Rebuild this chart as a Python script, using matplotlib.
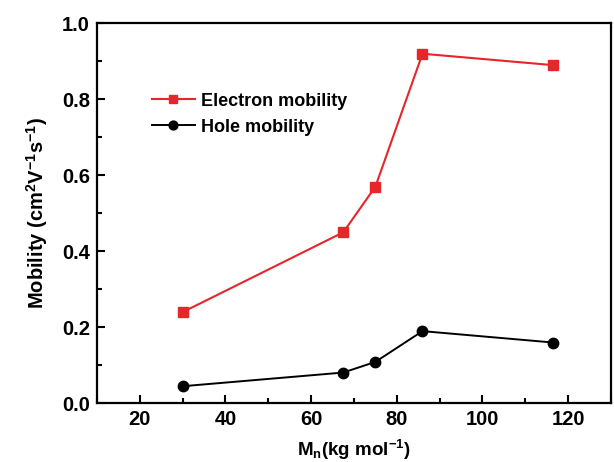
import matplotlib
matplotlib.use("Agg")
import matplotlib.pyplot as plt
from matplotlib.ticker import MultipleLocator

plt.rcParams['font.family'] = ['Liberation Sans', 'DejaVu Sans']
plt.rcParams['font.weight'] = 'bold'
plt.rcParams['mathtext.fontset'] = 'custom'
plt.rcParams['mathtext.rm'] = 'Liberation Sans:bold'
plt.rcParams['mathtext.it'] = 'Liberation Sans:bold'
plt.rcParams['mathtext.bf'] = 'Liberation Sans:bold'

mn = [30, 67.5, 75, 86, 116.5]
electron = [0.24, 0.45, 0.57, 0.92, 0.89]
hole = [0.045, 0.081, 0.109, 0.19, 0.16]

fig = plt.figure(figsize=(6.14, 4.62), dpi=100)
ax = fig.add_axes([0.158, 0.127, 0.837, 0.8225])

ax.plot(mn, electron, color='#e5262b', lw=1.5, marker='s', ms=7, label='Electron mobility')
ax.plot(mn, hole, color='black', lw=1.4, marker='o', ms=7.5, label='Hole mobility')

ax.set_xlim(10, 130)
ax.set_ylim(0, 1.0)
ax.xaxis.set_minor_locator(MultipleLocator(10))
ax.yaxis.set_minor_locator(MultipleLocator(0.1))
ax.set_xticks([20, 40, 60, 80, 100, 120])
ax.set_yticks([0.0, 0.2, 0.4, 0.6, 0.8, 1.0])
ax.set_yticklabels(['0.0', '0.2', '0.4', '0.6', '0.8', '1.0'])
ax.tick_params(which='major', direction='in', length=6, width=1.5, labelsize=14.5, pad=5)
ax.tick_params(which='minor', direction='in', length=3.5, width=1.5)
for s in ax.spines.values():
    s.set_linewidth(1.6)

ax.set_xlabel(r'M$_\mathregular{n}$(kg mol$^\mathregular{-1}$)', fontsize=13.5, fontweight='bold', labelpad=6)
ax.set_ylabel(r'Mobility (cm$^\mathregular{2}$V$^\mathregular{-1}$s$^\mathregular{-1}$)', fontsize=14.5, fontweight='bold', labelpad=9)

leg = ax.legend(loc='upper left', bbox_to_anchor=(0.075, 0.86), frameon=False,
                fontsize=13, handlelength=2.4, handletextpad=0.3, labelspacing=0.5,
                markerscale=0.85)

fig.savefig('out.png', dpi=100)
